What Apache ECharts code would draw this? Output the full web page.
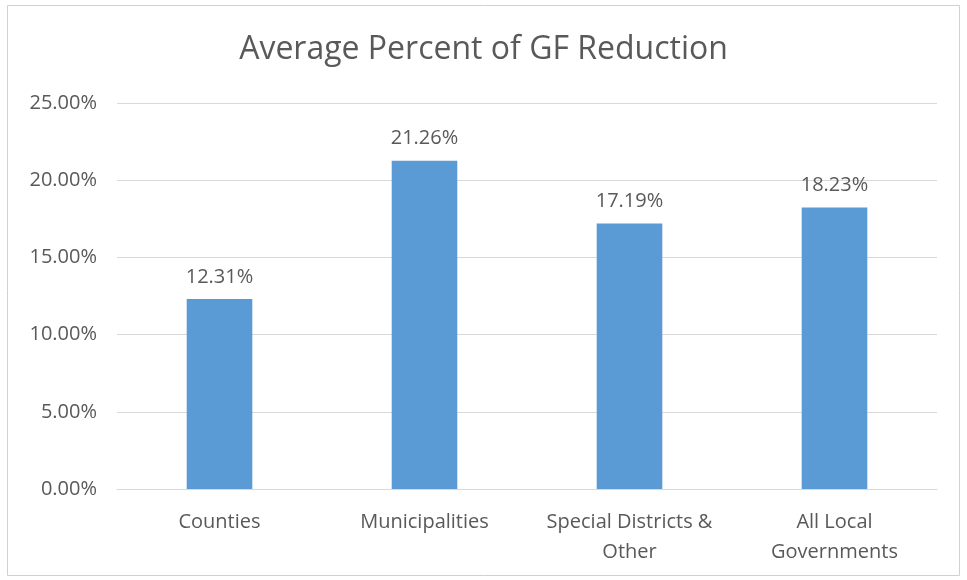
<!DOCTYPE html>
<html><head><meta charset="utf-8">
<script src="https://cdn.jsdelivr.net/npm/echarts@6/dist/echarts.min.js"></script>
<style>html,body{margin:0;padding:0;background:#fff}#c{width:967px;height:580px}</style>
</head><body><div id="c"></div>
<script>
const categories = ['Counties', 'Municipalities', 'Special Districts &\nOther', 'All Local\nGovernments'];
const values = [12.31, 21.26, 17.19, 18.23];
const yTicks = { min: 0, max: 25, interval: 5 };

const chart = echarts.init(document.getElementById('c'));
const txt = '#595959';
const font = '"Open Sans", "Noto Sans", sans-serif';
chart.setOption({
  animation: false,
  title: { text: 'Average Percent of GF Reduction', left: 'center', top: 29,
    textStyle: { fontFamily: font, fontSize: 32, fontWeight: 'normal', color: txt } },
  graphic: [{ type: 'rect', shape: { x: 7.5, y: 5.5, width: 952, height: 570 },
    style: { fill: 'none', stroke: '#d0d0d0', lineWidth: 1 }, silent: true }],
  grid: { left: 117, right: 30, top: 103, bottom: 91, containLabel: false },
  xAxis: { type: 'category', data: categories,
    axisLine: { lineStyle: { color: '#d9d9d9', width: 1 } }, axisTick: { show: false },
    axisLabel: { fontFamily: font, fontSize: 20, color: txt, margin: 18, lineHeight: 30, interval: 0 } },
  yAxis: { type: 'value', min: yTicks.min, max: yTicks.max, interval: yTicks.interval,
    axisLine: { show: false }, axisTick: { show: false },
    splitLine: { lineStyle: { color: '#d9d9d9', width: 1 } },
    axisLabel: { fontFamily: font, fontSize: 20, color: txt, margin: 20,
      formatter: v => v.toFixed(2) + '%' } },
  series: [{ type: 'bar', data: values, barWidth: '32%',
    itemStyle: { color: '#5B9BD5' },
    label: { show: true, position: 'top', distance: 12, fontFamily: font, fontSize: 20, color: txt,
      formatter: p => p.value.toFixed(2) + '%' } }]
});
</script></body></html>
